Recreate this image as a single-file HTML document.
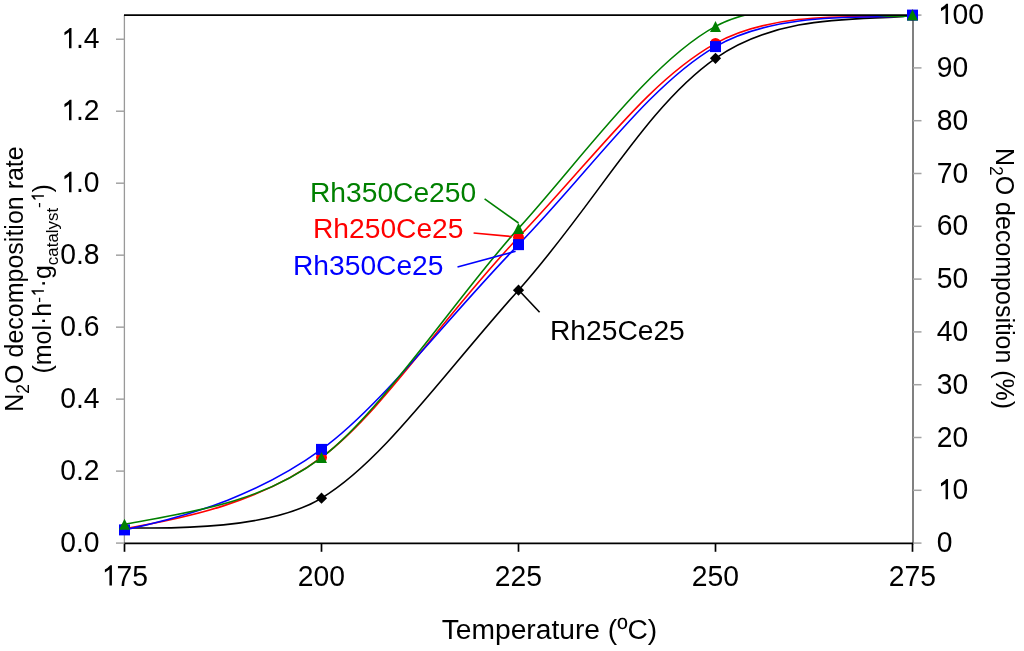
<!DOCTYPE html><html><head><meta charset="utf-8"><style>html,body{margin:0;padding:0;background:#fff;width:1024px;height:651px;overflow:hidden}svg{display:block;will-change:transform}text{font-family:"Liberation Sans",sans-serif}</style></head><body>
<svg width="1024" height="651" viewBox="0 0 1024 651">
<defs><clipPath id="pa"><rect x="124" y="15" width="789.5" height="528.5"/></clipPath></defs>
<g clip-path="url(#pa)" fill="none" stroke-width="1.6">
<path d="M124.50,528.00 C134.65,526.76 260.08,535.27 321.50,498.20 C382.92,461.13 442.05,375.55 518.50,290.20 C594.95,204.85 645.57,107.18 715.50,58.35 C785.43,9.52 876.35,21.82 912.50,15.10" stroke="#000"/>
<path d="M124.50,528.70 C186.25,517.95 260.76,502.32 321.50,457.40 C382.24,412.48 440.28,319.57 518.50,237.30 C596.72,155.03 648.27,81.32 715.50,43.40 C782.73,5.48 888.50,20.54 912.50,15.10" stroke="#f00"/>
<path d="M124.50,529.90 C196.77,514.63 261.80,492.62 321.50,449.40 C381.20,406.18 449.57,315.12 518.50,244.65 C587.43,174.18 648.07,85.89 715.50,46.60 C782.93,7.31 887.63,20.29 912.50,15.10" stroke="#00f"/>
<path d="M124.50,524.30 C196.36,511.29 262.60,501.84 321.50,457.60 C380.40,413.36 459.64,292.81 518.50,228.40 C577.36,163.99 649.86,61.93 715.50,26.40 C781.14,-9.13 876.25,22.82 912.50,15.10" stroke="#008000"/>
</g>
<line x1="124.4" y1="15" x2="124.4" y2="543" stroke="#999" stroke-width="1.3"/>
<line x1="913" y1="15" x2="913" y2="543" stroke="#808080" stroke-width="2"/>
<line x1="124" y1="15.1" x2="913" y2="15.1" stroke="#000" stroke-width="1.7"/>
<line x1="124" y1="543.3" x2="914" y2="543.3" stroke="#000" stroke-width="1.7"/>
<line x1="124.5" y1="543" x2="124.5" y2="551.8" stroke="#000" stroke-width="1.7"/>
<line x1="321.5" y1="543" x2="321.5" y2="551.8" stroke="#000" stroke-width="1.7"/>
<line x1="518.5" y1="543" x2="518.5" y2="551.8" stroke="#000" stroke-width="1.7"/>
<line x1="715.5" y1="543" x2="715.5" y2="551.8" stroke="#000" stroke-width="1.7"/>
<line x1="912.5" y1="543" x2="912.5" y2="551.8" stroke="#000" stroke-width="1.7"/>
<line x1="116" y1="543.10" x2="124.5" y2="543.10" stroke="#a3a3a3" stroke-width="1.5"/>
<line x1="116" y1="471.12" x2="124.5" y2="471.12" stroke="#a3a3a3" stroke-width="1.5"/>
<line x1="116" y1="399.14" x2="124.5" y2="399.14" stroke="#a3a3a3" stroke-width="1.5"/>
<line x1="116" y1="327.16" x2="124.5" y2="327.16" stroke="#a3a3a3" stroke-width="1.5"/>
<line x1="116" y1="255.18" x2="124.5" y2="255.18" stroke="#a3a3a3" stroke-width="1.5"/>
<line x1="116" y1="183.20" x2="124.5" y2="183.20" stroke="#a3a3a3" stroke-width="1.5"/>
<line x1="116" y1="111.22" x2="124.5" y2="111.22" stroke="#a3a3a3" stroke-width="1.5"/>
<line x1="116" y1="39.24" x2="124.5" y2="39.24" stroke="#a3a3a3" stroke-width="1.5"/>
<line x1="913" y1="543.10" x2="921.5" y2="543.10" stroke="#a3a3a3" stroke-width="1.5"/>
<line x1="913" y1="490.30" x2="921.5" y2="490.30" stroke="#a3a3a3" stroke-width="1.5"/>
<line x1="913" y1="437.50" x2="921.5" y2="437.50" stroke="#a3a3a3" stroke-width="1.5"/>
<line x1="913" y1="384.70" x2="921.5" y2="384.70" stroke="#a3a3a3" stroke-width="1.5"/>
<line x1="913" y1="331.90" x2="921.5" y2="331.90" stroke="#a3a3a3" stroke-width="1.5"/>
<line x1="913" y1="279.10" x2="921.5" y2="279.10" stroke="#a3a3a3" stroke-width="1.5"/>
<line x1="913" y1="226.30" x2="921.5" y2="226.30" stroke="#a3a3a3" stroke-width="1.5"/>
<line x1="913" y1="173.50" x2="921.5" y2="173.50" stroke="#a3a3a3" stroke-width="1.5"/>
<line x1="913" y1="120.70" x2="921.5" y2="120.70" stroke="#a3a3a3" stroke-width="1.5"/>
<line x1="913" y1="67.90" x2="921.5" y2="67.90" stroke="#a3a3a3" stroke-width="1.5"/>
<line x1="913" y1="15.10" x2="921.5" y2="15.10" stroke="#a3a3a3" stroke-width="1.5"/>
<path d="M124.50,522.40 L130.10,528.00 L124.50,533.60 L118.90,528.00Z" fill="#000"/>
<path d="M321.50,492.60 L327.10,498.20 L321.50,503.80 L315.90,498.20Z" fill="#000"/>
<path d="M518.50,284.60 L524.10,290.20 L518.50,295.80 L512.90,290.20Z" fill="#000"/>
<path d="M715.50,52.75 L721.10,58.35 L715.50,63.95 L709.90,58.35Z" fill="#000"/>
<path d="M912.50,9.50 L918.10,15.10 L912.50,20.70 L906.90,15.10Z" fill="#000"/>
<circle cx="124.5" cy="528.7" r="5.45" fill="#f00"/>
<circle cx="321.5" cy="457.4" r="5.45" fill="#f00"/>
<circle cx="518.5" cy="237.3" r="5.45" fill="#f00"/>
<circle cx="715.5" cy="43.4" r="5.45" fill="#f00"/>
<circle cx="912.5" cy="15.1" r="5.45" fill="#f00"/>
<rect x="119.00" y="524.40" width="11.0" height="11.0" fill="#00f"/>
<rect x="316.00" y="443.90" width="11.0" height="11.0" fill="#00f"/>
<rect x="513.00" y="239.15" width="11.0" height="11.0" fill="#00f"/>
<rect x="710.00" y="41.10" width="11.0" height="11.0" fill="#00f"/>
<rect x="907.00" y="9.60" width="11.0" height="11.0" fill="#00f"/>
<path d="M124.50,518.80 L130.00,529.80 L119.00,529.80Z" fill="#008000"/>
<path d="M321.50,452.10 L327.00,463.10 L316.00,463.10Z" fill="#008000"/>
<path d="M518.50,222.90 L524.00,233.90 L513.00,233.90Z" fill="#008000"/>
<path d="M715.50,20.90 L721.00,31.90 L710.00,31.90Z" fill="#008000"/>
<path d="M912.50,9.60 L918.00,20.60 L907.00,20.60Z" fill="#008000"/>
<line x1="484.6" y1="198.8" x2="518.5" y2="223" stroke="#008000" stroke-width="1.6"/>
<line x1="473.6" y1="233" x2="511.9" y2="236.6" stroke="#f00" stroke-width="1.6"/>
<line x1="457.5" y1="266.9" x2="515.6" y2="251.3" stroke="#00f" stroke-width="1.6"/>
<line x1="520" y1="291.5" x2="539.6" y2="312.3" stroke="#000" stroke-width="1.6"/>
<text x="310" y="201.5" font-size="28.2" fill="#008000">Rh350Ce250</text>
<text x="313" y="238" font-size="28.2" fill="#f00">Rh250Ce25</text>
<text x="293" y="274.7" font-size="28.2" fill="#00f">Rh350Ce25</text>
<text x="550" y="339.8" font-size="28.2" fill="#000">Rh25Ce25</text>
<g transform="translate(60.26,552.10) scale(1,1.045)"><text x="0" y="0" font-size="28.3">0.0</text></g>
<g transform="translate(60.26,480.12) scale(1,1.045)"><text x="0" y="0" font-size="28.3">0.2</text></g>
<g transform="translate(60.26,408.14) scale(1,1.045)"><text x="0" y="0" font-size="28.3">0.4</text></g>
<g transform="translate(60.26,336.16) scale(1,1.045)"><text x="0" y="0" font-size="28.3">0.6</text></g>
<g transform="translate(60.26,264.18) scale(1,1.045)"><text x="0" y="0" font-size="28.3">0.8</text></g>
<g transform="translate(60.26,192.20) scale(1,1.045)"><text x="0" y="0" font-size="28.3"> .0</text><path transform="translate(0.00,0) scale(0.013818,-0.013818)" d="M813,0 L633,0 L633,1100 Q473,985 303,893 L303,1115 Q543,1240 693,1409 L813,1409 Z"/></g>
<g transform="translate(60.26,120.22) scale(1,1.045)"><text x="0" y="0" font-size="28.3"> .2</text><path transform="translate(0.00,0) scale(0.013818,-0.013818)" d="M813,0 L633,0 L633,1100 Q473,985 303,893 L303,1115 Q543,1240 693,1409 L813,1409 Z"/></g>
<g transform="translate(60.26,48.24) scale(1,1.045)"><text x="0" y="0" font-size="28.3"> .4</text><path transform="translate(0.00,0) scale(0.013818,-0.013818)" d="M813,0 L633,0 L633,1100 Q473,985 303,893 L303,1115 Q543,1240 693,1409 L813,1409 Z"/></g>
<g transform="translate(936.80,552.10) scale(1,1.045)"><text x="0" y="0" font-size="28.3">0</text></g>
<g transform="translate(936.80,499.30) scale(1,1.045)"><text x="0" y="0" font-size="28.3"> 0</text><path transform="translate(0.00,0) scale(0.013818,-0.013818)" d="M813,0 L633,0 L633,1100 Q473,985 303,893 L303,1115 Q543,1240 693,1409 L813,1409 Z"/></g>
<g transform="translate(936.80,446.50) scale(1,1.045)"><text x="0" y="0" font-size="28.3">20</text></g>
<g transform="translate(936.80,393.70) scale(1,1.045)"><text x="0" y="0" font-size="28.3">30</text></g>
<g transform="translate(936.80,340.90) scale(1,1.045)"><text x="0" y="0" font-size="28.3">40</text></g>
<g transform="translate(936.80,288.10) scale(1,1.045)"><text x="0" y="0" font-size="28.3">50</text></g>
<g transform="translate(936.80,235.30) scale(1,1.045)"><text x="0" y="0" font-size="28.3">60</text></g>
<g transform="translate(936.80,182.50) scale(1,1.045)"><text x="0" y="0" font-size="28.3">70</text></g>
<g transform="translate(936.80,129.70) scale(1,1.045)"><text x="0" y="0" font-size="28.3">80</text></g>
<g transform="translate(936.80,76.90) scale(1,1.045)"><text x="0" y="0" font-size="28.3">90</text></g>
<g transform="translate(936.80,24.10) scale(1,1.045)"><text x="0" y="0" font-size="28.3"> 00</text><path transform="translate(0.00,0) scale(0.013818,-0.013818)" d="M813,0 L633,0 L633,1100 Q473,985 303,893 L303,1115 Q543,1240 693,1409 L813,1409 Z"/></g>
<g transform="translate(100.69,585.50) scale(1,1.045)"><text x="0" y="0" font-size="28.3"> 75</text><path transform="translate(0.00,0) scale(0.013818,-0.013818)" d="M813,0 L633,0 L633,1100 Q473,985 303,893 L303,1115 Q543,1240 693,1409 L813,1409 Z"/></g>
<g transform="translate(297.69,585.50) scale(1,1.045)"><text x="0" y="0" font-size="28.3">200</text></g>
<g transform="translate(494.69,585.50) scale(1,1.045)"><text x="0" y="0" font-size="28.3">225</text></g>
<g transform="translate(691.69,585.50) scale(1,1.045)"><text x="0" y="0" font-size="28.3">250</text></g>
<g transform="translate(888.69,585.50) scale(1,1.045)"><text x="0" y="0" font-size="28.3">275</text></g>
<text x="549.5" y="638.9" font-size="28.2" text-anchor="middle">Temperature (ºC)</text>
<g transform="translate(22.5,279) rotate(-90)"><text x="0" y="0" font-size="25" text-anchor="middle">N<tspan font-size="17.5" dy="6.2">2</tspan><tspan dy="-6.2">O decomposition rate</tspan></text></g>
<g transform="translate(50.8,0) rotate(-90)"><text x="-373.6" y="0" font-size="25">(mol·h<tspan font-size="17.3" dy="-6.9">- </tspan><tspan dy="6.9">·g</tspan><tspan font-size="16.9" dy="7">catalyst</tspan><tspan font-size="17.3" dy="-13.9">- </tspan><tspan dy="6.9">)</tspan></text><path transform="translate(-297.01,-6.9) scale(0.008447,-0.008827)" d="M813,0 L633,0 L633,1100 Q473,985 303,893 L303,1115 Q543,1240 693,1409 L813,1409 Z"/><path transform="translate(-202.13,-6.9) scale(0.008447,-0.008827)" d="M813,0 L633,0 L633,1100 Q473,985 303,893 L303,1115 Q543,1240 693,1409 L813,1409 Z"/></g>
<g transform="translate(996,278.5) rotate(90)"><text x="0" y="0" font-size="25" text-anchor="middle">N<tspan font-size="17.5" dy="6.2">2</tspan><tspan dy="-6.2">O decomposition (%)</tspan></text></g>
</svg></body></html>
